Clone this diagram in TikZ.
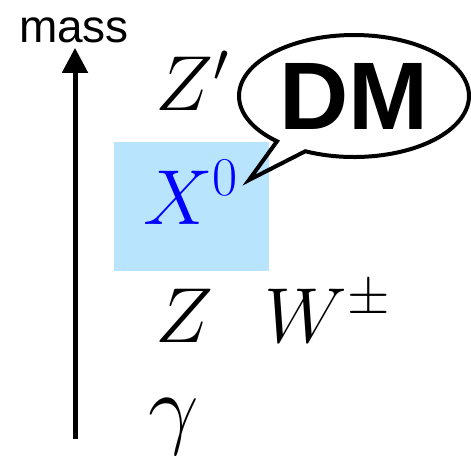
\RequirePackage{fix-cm}
\documentclass[tikz,border=0pt]{standalone}
\usepackage{fontspec}
\newfontfamily\dmsans{Liberation Sans}
\usetikzlibrary{arrows.meta,positioning,shapes.callouts}
\definecolor{dmbox}{RGB}{185,228,253}

\begin{document}
\begin{tikzpicture}[
  x=0.5pt, y=-0.5pt,
  pt/.style={inner sep=0pt, anchor=base west,
             font=\fontsize{39}{40}\selectfont},
  lb/.style={inner sep=0pt, anchor=base,
             font=\dmsans\fontsize{23}{24}\selectfont},
  bubble/.style={ellipse callout, draw, line width=2pt, inner sep=0pt,
                 minimum width=115pt, minimum height=61pt,
                 callout pointer arc=17,
                 font=\dmsans\bfseries\fontsize{48}{50}\selectfont},
  ar/.style={-{Triangle[length=12.5pt, width=12.5pt]}, line width=2.5pt}
]
  \useasboundingbox (0,0) rectangle (471,455);

  % mass axis
  \node[lb] (mass) at (74,42) {mass};
  \coordinate (axbot) at (75,439);
  \draw[ar] (axbot) -- ([yshift=-2.5pt]mass.south -| axbot);

  % highlighted box
  \fill[dmbox] (114,142) rectangle (269,271);

  % particles
  \node[pt] (zp)  at (155,110) {$Z'$};
  \node[pt, text=blue] (x0) at (143,224) {$X^0$};
  \node[pt] (z)   at (155,342) {$Z$};
  \node[pt] (w)   at (264,342) {$W^\pm$};
  \node[pt, font=\fontsize{45}{46}\selectfont] (gam) at (148,437) {$\gamma$};

  % speech bubble
  \coordinate (tip) at (249,180);
  \node[bubble, callout absolute pointer={(tip)}] (dm) at (354,96) {DM};
\end{tikzpicture}
\end{document}
